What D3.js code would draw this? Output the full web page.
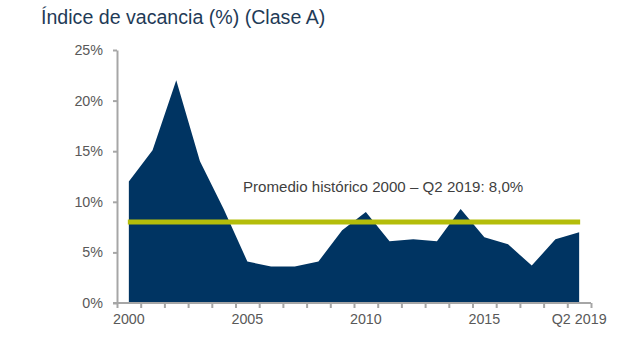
<!DOCTYPE html>
<html>
<head>
<meta charset="utf-8">
<script src="https://cdn.jsdelivr.net/npm/d3@7"></script>
<style>
  html, body { margin: 0; padding: 0; background: #ffffff; }
  svg { display: block; font-family: Arial, "Liberation Sans", sans-serif; }
</style>
</head>
<body>
<svg id="chart" width="640" height="338"></svg>
<script>
// Class A vacancy rate, yearly, 2000 to Q2 2019
const categories = ["2000","2001","2002","2003","2004","2005","2006","2007","2008","2009",
                    "2010","2011","2012","2013","2014","2015","2016","2017","2018","Q2 2019"];
const vacancy = [12.0, 15.1, 22.0, 14.0, 9.3, 4.1, 3.6, 3.6, 4.1, 7.2,
                 9.0, 6.1, 6.3, 6.1, 9.3, 6.5, 5.8, 3.7, 6.3, 7.0];
const historicAverage = 8.0;
const xLabels = ["2000","2005","2010","2015","Q2 2019"];
const yTicks = [0, 5, 10, 15, 20, 25];

const title = "Índice de vacancia (%) (Clase A)";
const avgLabel = "Promedio histórico 2000 – Q2 2019: 8,0%";

const svg = d3.select("#chart");
const plotLeft = 117, plotRight = 591, plotTop = 50, plotBottom = 303;

const x = d3.scaleBand().domain(categories).range([plotLeft, plotRight]).padding(0);
const xIdx = d3.scaleLinear().domain([0, categories.length]).range([plotLeft, plotRight]);
const y = d3.scaleLinear().domain([0, 25]).range([plotBottom, plotTop]);

const cx = d => x(d) + x.bandwidth() / 2;

// title
svg.append("text")
  .attr("x", 41).attr("y", 24)
  .attr("font-size", 19.6)
  .attr("fill", "#1f3b57")
  .text(title);

// area
const series = categories.map((c, i) => ({ c, v: vacancy[i] }));
svg.append("path")
  .datum(series)
  .attr("fill", "#003462")
  .attr("d", d3.area().x(d => cx(d.c)).y0(y(0)).y1(d => y(d.v)));

// historic average line
svg.append("line")
  .attr("x1", cx(categories[0]) - 1)
  .attr("x2", cx(categories[categories.length - 1]) + 1)
  .attr("y1", y(historicAverage)).attr("y2", y(historicAverage))
  .attr("stroke", "#b4bd0a").attr("stroke-width", 5);

svg.append("text")
  .attr("x", 243).attr("y", 191.5)
  .attr("font-size", 15.1)
  .attr("fill", "#3f3f3f")
  .text(avgLabel);

// y axis
const yAxis = svg.append("g")
  .attr("transform", `translate(${plotLeft},0)`)
  .call(d3.axisLeft(y).tickValues(yTicks).tickFormat(d => d + "%").tickSizeInner(4).tickSizeOuter(0).tickPadding(10));
yAxis.select(".domain").attr("stroke", "#a6a6a6").attr("stroke-width", 2);
yAxis.selectAll(".tick line").attr("stroke", "#a6a6a6").attr("stroke-width", 2);
yAxis.selectAll(".tick text").attr("fill", "#595959").attr("font-size", 14.3)
  .attr("font-family", "Arial, 'Liberation Sans', sans-serif");

// x axis: tick marks on category boundaries
const xTickAxis = svg.append("g")
  .attr("transform", `translate(0,${plotBottom})`)
  .call(d3.axisBottom(xIdx).ticks(categories.length).tickFormat("").tickSizeInner(5).tickSizeOuter(0));
xTickAxis.select(".domain").attr("stroke", "#a6a6a6").attr("stroke-width", 2)
  .attr("d", `M${plotLeft - 4},0H${plotRight}`);
xTickAxis.selectAll(".tick line").attr("stroke", "#a6a6a6").attr("stroke-width", 2);

// x axis labels centred on their categories
const xLabelAxis = svg.append("g")
  .attr("transform", `translate(0,${plotBottom})`)
  .call(d3.axisBottom(x).tickValues(xLabels).tickSize(0).tickPadding(11));
xLabelAxis.select(".domain").remove();
xLabelAxis.selectAll(".tick text").attr("fill", "#595959").attr("font-size", 14.3)
  .attr("font-family", "Arial, 'Liberation Sans', sans-serif");
</script>
</body>
</html>
